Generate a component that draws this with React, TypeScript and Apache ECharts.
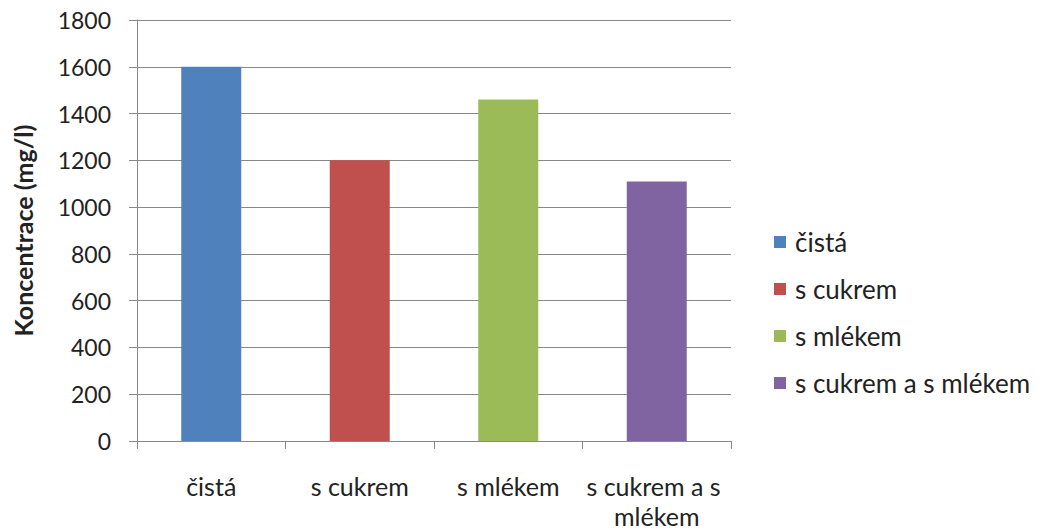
import React, { useEffect, useRef } from "react";
import * as echarts from "echarts";

const categories = ["čistá", "s cukrem", "s mlékem", "s cukrem a s mlékem"];
const values = [1600, 1200, 1460, 1110];
const colors = ["#4F81BD", "#C0504D", "#9BBB59", "#8064A2"];
const yTitle = "Koncentrace (mg/l)";

export default function App() {
  const ref = useRef<HTMLDivElement>(null);
  useEffect(() => {
    const chart = echarts.init(ref.current!, null, { renderer: "svg" });
    const font = "Lato, 'Open Sans', sans-serif";
    chart.setOption({
      animation: false,
      textStyle: { fontFamily: font },
      grid: { left: 137, top: 20, right: 316, bottom: 87, containLabel: false },
      legend: {
        orient: "vertical",
        left: 769,
        top: 224,
        itemWidth: 12,
        itemHeight: 12,
        itemGap: 21,
        icon: "rect",
        textStyle: { fontSize: 26, lineHeight: 26, color: "#222", fontFamily: font, padding: [0, 0, 0, 4] },
        data: categories,
      },
      xAxis: {
        type: "category",
        data: categories,
        axisLine: { lineStyle: { color: "#888" } },
        axisTick: { show: true, length: 8, lineStyle: { color: "#888" } },
        axisLabel: {
          fontSize: 25,
          color: "#222",
          margin: 30,
          width: 148,
          overflow: "break",
          lineHeight: 30,
          interval: 0,
          fontFamily: font,
        },
      },
      yAxis: {
        type: "value",
        min: 0,
        max: 1800,
        interval: 200,
        name: yTitle,
        nameLocation: "middle",
        nameGap: 102,
        nameTextStyle: { fontSize: 25, fontWeight: "bold", color: "#222", fontFamily: font },
        axisLine: { show: true, lineStyle: { color: "#888" } },
        axisTick: { show: true, length: 8, lineStyle: { color: "#888" } },
        axisLabel: {
          fontSize: 23,
          color: "#222",
          margin: 26,
          fontFamily: font,
          formatter: (v: number) => String(v),
        },
        splitLine: { lineStyle: { color: "#888" } },
      },
      series: categories.map((c, i) => ({
        name: c,
        type: "bar",
        stack: "all",
        barWidth: 60,
        itemStyle: { color: colors[i] },
        data: values.map((v, j) => (j === i ? v : null)),
      })),
    });
    return () => chart.dispose();
  }, []);
  return (
    <div
      ref={ref}
      style={{ position: "absolute", left: 0, top: 0, width: 1047, height: 531 }}
    />
  );
}
